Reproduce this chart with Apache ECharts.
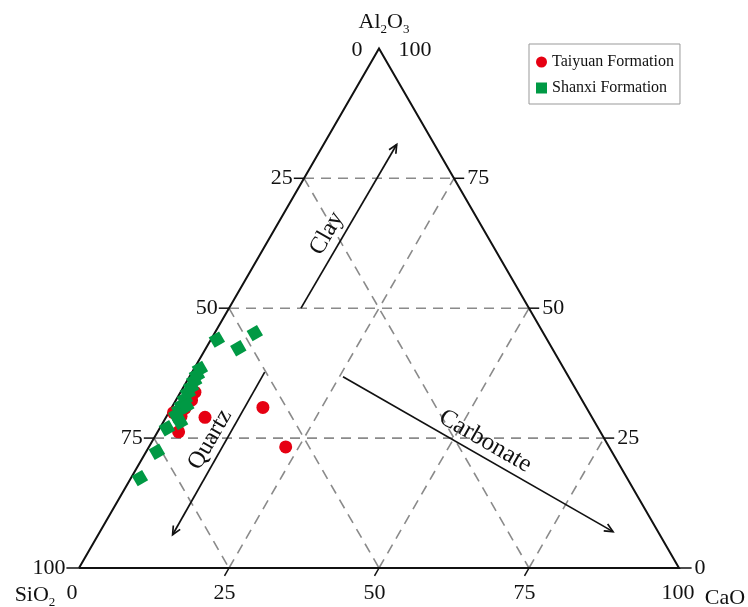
<!DOCTYPE html>
<html><head><meta charset="utf-8">
<script src="https://cdn.jsdelivr.net/npm/echarts@6/dist/echarts.min.js"></script>
<style>html,body{margin:0;padding:0;background:#fff}#c{width:748px;height:607px}</style>
</head><body><div id="c"></div>
<script>
// Compositions: [SiO2, Al2O3, CaO] (%)
const taiyuan = [
  [63.7,33.8,2.4],[65.1,32.3,2.6],[67.0,30.8,2.3],[69.3,29.9,0.8],[68.4,29.2,2.4],
  [70.3,26.2,3.5],[64.5,29.0,6.5],[53.9,30.9,15.2],[53.9,23.3,22.8]
];
const shanxi = [
  [48.1,45.2,6.7],[52.3,42.3,5.4],[55.1,44.0,1.0],[60.7,38.3,1.0],[61.8,37.1,1.1],
  [62.8,36.0,1.2],[63.9,34.8,1.3],[65.0,33.7,1.3],[66.1,32.5,1.4],[67.2,31.3,1.5],
  [68.1,30.4,1.5],[66.6,31.2,2.3],[69.1,29.4,1.5],[69.1,28.1,2.8],[71.9,26.9,1.2],
  [75.9,22.4,1.8],[81.2,17.3,1.5]
];
const gridValues = [25, 50, 75];
const leftTickLabels = ['25', '50', '75'];     // SiO2 along the left edge
const rightTickLabels = ['75', '50', '25'];    // Al2O3 along the right edge
const bottomTickLabels = ['25', '50', '75'];   // CaO along the bottom edge
// Annotation arrows: [start, end] compositions
const arrowClay = [[38.0,50.0,12.0],[6.3,81.5,12.2]];
const arrowQuartz = [[50.2,37.7,12.1],[81.2,6.4,12.4]];
const arrowCarbonate = [[37.6,36.8,25.6],[7.5,7.0,85.5]];
const annotationTexts = [
  {text:'Clay', at:[26.5,64.4,9.1], rotate:60, size:24},
  {text:'Quartz', at:[65.8,24.7,9.5], rotate:60, size:24},
  {text:'Carbonate', at:[20.1,24.4,55.5], rotate:-30, size:25}
];

const FONT = 'Liberation Serif';
const INK = '#111';
const S3 = Math.sqrt(3) / 2;
function T(p) { const s = p[0] + p[1] + p[2]; return [(p[2] + p[1] / 2) / s * 100, p[1] * S3 / s * 100]; }
function add(a, b) { return [a[0] + b[0], a[1] + b[1]]; }

const Vsi = T([100,0,0]), Val = T([0,100,0]), Vca = T([0,0,100]);

// dashed grid
const gridLines = [];
gridValues.forEach(v => {
  gridLines.push({coords: [T([100 - v, v, 0]), T([0, v, 100 - v])]});
  gridLines.push({coords: [T([100 - v, 0, v]), T([0, 100 - v, v])]});
  gridLines.push({coords: [T([v, 100 - v, 0]), T([v, 0, 100 - v])]});
});

// ticks (unit = 6px)
const tk = 1.7;
const ticks = [];
const labels = [];
const base = {fontFamily: FONT, fontSize: 22, color: INK, opacity: 1};
function lab(pt, text, pos, extra) {
  labels.push({value: pt, label: Object.assign({show: true, formatter: text, position: pos, distance: 2}, base, extra || {})});
}
gridValues.forEach((v, i) => {
  const pl = T([100 - v, v, 0]);
  const pl2 = add(pl, [-tk, 0]);
  ticks.push({coords: [pl, pl2]});
  lab(pl2, leftTickLabels[2 - i], 'left', {distance: 1});
  const pr = T([0, v, 100 - v]);
  const pr2 = add(pr, [tk, 0]);
  ticks.push({coords: [pr, pr2]});
  lab(pr2, rightTickLabels[2 - i], 'right', {distance: 3});
  const pb = T([100 - v, 0, v]);
  const pb2 = add(pb, [-0.75, -1.3]);
  ticks.push({coords: [pb, pb2]});
  lab(pb2, bottomTickLabels[i], 'bottom', {distance: 6});
});
const bl2 = add(Vsi, [-2.1, 0]);
ticks.push({coords: [Vsi, bl2]});
lab(bl2, '100', 'left', {distance: 1});
const br2 = add(Vca, [2.1, 0]);
ticks.push({coords: [Vca, br2]});
lab(br2, '0', 'right', {distance: 3});
lab(Val, '0', 'inside', {offset: [-22, 2]});
lab(Val, '100', 'inside', {offset: [36, 2]});
lab(Val, '{a|Al}{b|2}{a|O}{b|3}', 'inside', {offset: [5, -26], rich: {
  a: {fontFamily: FONT, fontSize: 22, color: INK, lineHeight: 28},
  b: {fontFamily: FONT, fontSize: 13, color: INK, lineHeight: 28, verticalAlign: 'bottom'}
}});
lab(Vsi, '{a|SiO}{b|2}', 'inside', {offset: [-44, 27], rich: {
  a: {fontFamily: FONT, fontSize: 22, color: INK, lineHeight: 28},
  b: {fontFamily: FONT, fontSize: 13, color: INK, lineHeight: 28, verticalAlign: 'bottom'}
}});
lab(Vsi, '0', 'inside', {offset: [-7, 25]});
lab(Vca, '100', 'inside', {offset: [-1, 25]});
lab(Vca, 'CaO', 'inside', {offset: [46, 30]});

// arrows
function arrow(a) {
  const s = T(a[0]), e = T(a[1]);
  const dx = e[0] - s[0], dy = e[1] - s[1], L = Math.hypot(dx, dy);
  const ux = dx / L, uy = dy / L, h = 1.55, ang = 25 * Math.PI / 180;
  const c = Math.cos(ang), sn = Math.sin(ang);
  const w1 = [e[0] - h * (ux * c - uy * sn), e[1] - h * (uy * c + ux * sn)];
  const w2 = [e[0] - h * (ux * c + uy * sn), e[1] - h * (uy * c - ux * sn)];
  return [{coords: [s, e]}, {coords: [w1, e, w2]}];
}
const arrows = [].concat(arrow(arrowClay), arrow(arrowQuartz), arrow(arrowCarbonate));
annotationTexts.forEach(t => {
  labels.push({value: T(t.at), label: Object.assign({show: true, formatter: t.text, position: 'inside', rotate: t.rotate}, base, {fontSize: t.size})});
});

const chart = echarts.init(document.getElementById('c'), null, {renderer: 'canvas'});
chart.setOption({
  animation: false,
  backgroundColor: '#fff',
  grid: {left: 79, top: 48, width: 600, height: 520},
  xAxis: {type: 'value', min: 0, max: 100, show: false},
  yAxis: {type: 'value', min: 0, max: 520 / 6, show: false},
  legend: {
    orient: 'vertical', left: 529, top: 44, padding: [10, 6, 8, 7], itemGap: 10,
    itemWidth: 11, itemHeight: 11, borderColor: '#999', borderWidth: 1, backgroundColor: '#fff',
    textStyle: {fontFamily: FONT, fontSize: 16, color: INK}, symbolRotate: 0,
    data: [{name: 'Taiyuan Formation', icon: 'circle'}, {name: 'Shanxi Formation', icon: 'rect'}]
  },
  series: [
    {type: 'lines', coordinateSystem: 'cartesian2d', polyline: true, clip: false, silent: true,
     lineStyle: {color: '#8a8a8a', width: 1.6, type: [10, 7], opacity: 1}, data: gridLines},
    {type: 'lines', coordinateSystem: 'cartesian2d', polyline: true, clip: false, silent: true,
     lineStyle: {color: INK, width: 2, opacity: 1, join: 'miter'}, data: [{coords: [Vsi, Val, Vca, Vsi]}]},
    {type: 'lines', coordinateSystem: 'cartesian2d', polyline: true, clip: false, silent: true,
     lineStyle: {color: INK, width: 1.5, opacity: 1}, data: ticks},
    {type: 'lines', coordinateSystem: 'cartesian2d', polyline: true, clip: false, silent: true,
     lineStyle: {color: INK, width: 1.7, opacity: 1}, data: arrows},
    {name: 'Taiyuan Formation', type: 'scatter', symbol: 'circle', symbolSize: 13, clip: false,
     itemStyle: {color: '#e60012', opacity: 1}, data: taiyuan.map(T)},
    {name: 'Shanxi Formation', type: 'scatter', symbol: 'rect', symbolSize: 12, symbolRotate: 30, clip: false,
     itemStyle: {color: '#009944', opacity: 1}, data: shanxi.map(T)},
    {type: 'scatter', symbolSize: 0, clip: false, silent: true, itemStyle: {opacity: 1}, data: labels}
  ]
});
</script></body></html>
